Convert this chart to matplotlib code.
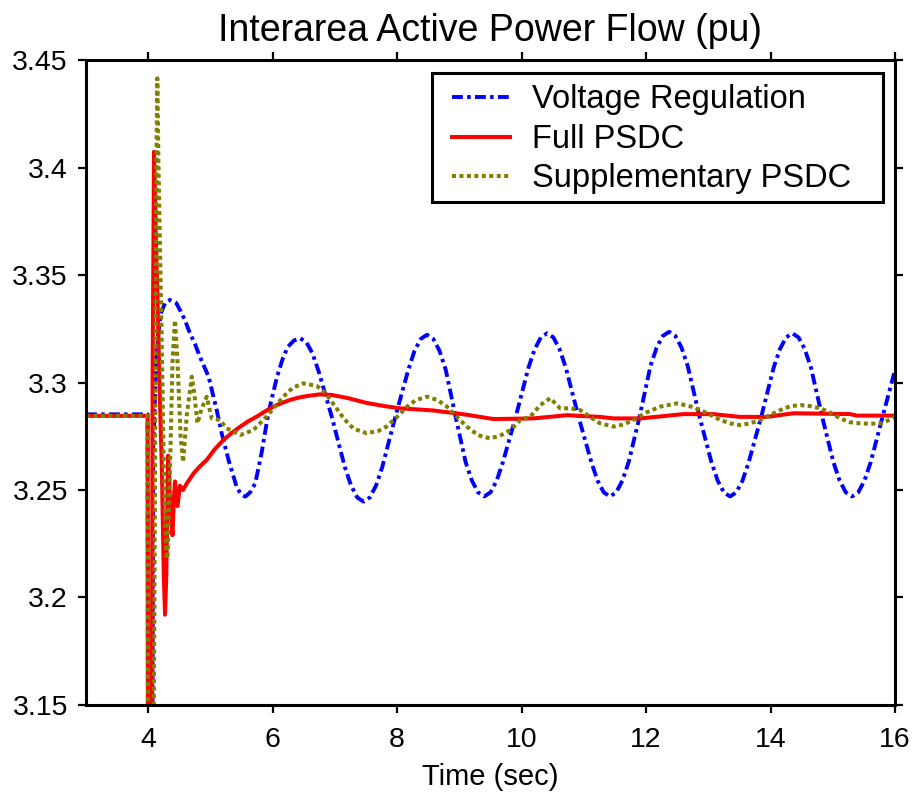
import numpy as np
import matplotlib
matplotlib.use('Agg')
import matplotlib.pyplot as plt
from matplotlib.patches import Rectangle
from matplotlib.transforms import IdentityTransform

plt.rcParams['font.family'] = ['Liberation Sans', 'DejaVu Sans']

# values (time in sec, power in pu)
t_volt = [3.0, 3.99, 4.0, 4.055, 4.08, 4.13, 4.16, 4.20, 4.27, 4.35, 4.45, 4.51, 4.59,
          4.67, 4.75, 4.83, 4.97, 5.10, 5.18, 5.29, 5.42, 5.49, 5.56, 5.64, 5.72,
          5.82, 5.93, 6.07, 6.16, 6.24, 6.34, 6.44, 6.54, 6.64, 6.74, 6.95,
          7.16, 7.26, 7.36, 7.46, 7.56, 7.66, 7.76, 7.97,
          8.18, 8.28, 8.38, 8.48, 8.58, 8.68, 8.78, 8.94,
          9.10, 9.20, 9.30, 9.40, 9.50, 9.60, 9.70, 9.905,
          10.11, 10.21, 10.31, 10.41, 10.51, 10.61, 10.71, 10.915,
          11.12, 11.22, 11.32, 11.42, 11.52, 11.62, 11.72, 11.895,
          12.07, 12.17, 12.27, 12.37, 12.47, 12.57, 12.67, 12.86,
          13.05, 13.15, 13.25, 13.35, 13.45, 13.55, 13.65, 13.85,
          14.05, 14.15, 14.25, 14.35, 14.45, 14.55, 14.65, 14.83,
          15.01, 15.11, 15.21, 15.31, 15.41, 15.51, 15.61, 15.80, 16.0]
p_volt = [3.2852, 3.2852, 3.0, 3.0, 3.27, 3.31, 3.322, 3.332, 3.337, 3.3384, 3.337,
          3.3337, 3.329, 3.3229, 3.318, 3.312, 3.3027, 3.2872, 3.2764, 3.264, 3.2515,
          3.248, 3.2469, 3.249, 3.2531, 3.267, 3.2857, 3.3027, 3.311, 3.3165, 3.3195,
          3.3206, 3.3188, 3.3135, 3.305, 3.284,
          3.2606, 3.252, 3.2465, 3.2446, 3.2465, 3.252, 3.2606, 3.284,
          3.306, 3.3148, 3.3203, 3.3222, 3.3203, 3.3148, 3.306, 3.284,
          3.263, 3.2544, 3.2489, 3.247, 3.2489, 3.2544, 3.263, 3.284,
          3.3069, 3.3155, 3.321, 3.3229, 3.321, 3.3155, 3.3069, 3.284,
          3.263, 3.2544, 3.2489, 3.247, 3.2489, 3.2544, 3.263, 3.284,
          3.3076, 3.3162, 3.3217, 3.3236, 3.3217, 3.3162, 3.3076, 3.284,
          3.263, 3.2544, 3.2489, 3.247, 3.2489, 3.2544, 3.263, 3.284,
          3.3069, 3.3155, 3.321, 3.3229, 3.321, 3.3155, 3.3069, 3.284,
          3.263, 3.2544, 3.2489, 3.247, 3.2489, 3.2544, 3.263, 3.284, 3.3058]

t_full = [3.0, 3.99, 4.0, 4.05, 4.07, 4.093, 4.12, 4.15, 4.19, 4.22, 4.25, 4.27, 4.29,
          4.31, 4.32, 4.35, 4.39, 4.41, 4.43, 4.47, 4.51, 4.56, 4.62, 4.73, 4.83,
          4.94, 5.07, 5.21, 5.34, 5.48, 5.61, 5.74, 5.88, 6.01, 6.15, 6.28, 6.42,
          6.55, 6.76, 6.95, 7.2, 7.51, 7.8, 8.05, 8.58, 9.12, 9.55, 10.19, 10.73,
          11.26, 11.48, 11.91, 12.6, 13.08, 13.51, 13.94, 14.37, 15.28, 15.39, 16.0]
p_full = [3.2845, 3.2845, 3.0, 3.0, 3.30, 3.4073, 3.37, 3.337, 3.29, 3.259, 3.21,
          3.192, 3.21, 3.25, 3.266, 3.245, 3.229, 3.245, 3.254, 3.2425, 3.252, 3.250,
          3.2531, 3.2578, 3.261, 3.264, 3.269, 3.2733, 3.2765, 3.2795, 3.282, 3.2841,
          3.2866, 3.2888, 3.2905, 3.2919, 3.293, 3.2937, 3.2945, 3.2942, 3.2928,
          3.2905, 3.289, 3.288, 3.287, 3.285, 3.283, 3.2833, 3.2848, 3.284, 3.2833,
          3.2833, 3.2853, 3.2853, 3.284, 3.284, 3.2857, 3.2853, 3.2846, 3.2846]

t_supp = [3.0, 3.99, 4.0, 4.06, 4.10, 4.13, 4.146, 4.165, 4.21, 4.25, 4.29, 4.31,
          4.35, 4.39, 4.43, 4.47, 4.52, 4.56, 4.62, 4.70, 4.74, 4.79, 4.86, 4.94,
          5.02, 5.15, 5.26, 5.48, 5.69, 5.90, 6.17, 6.32, 6.49, 6.71, 6.85, 7.0,
          7.15, 7.3, 7.51, 7.7, 7.83, 8.0, 8.16, 8.3, 8.48, 8.65, 8.80, 8.96, 9.12,
          9.3, 9.49, 9.65, 9.82, 9.98, 10.14, 10.30, 10.46, 10.62, 10.78, 10.94,
          11.1, 11.26, 11.48, 11.64, 11.80, 12.0, 12.23, 12.50, 12.7, 12.87, 13.03,
          13.19, 13.35, 13.51, 13.67, 13.84, 14.0, 14.16, 14.32, 14.48, 14.64,
          14.80, 14.96, 15.12, 15.28, 15.44, 15.6, 15.77, 15.9, 16.0]
p_supp = [3.2845, 3.2845, 3.0, 3.0, 3.20, 3.40, 3.4415, 3.40, 3.33, 3.26, 3.22,
          3.218, 3.26, 3.31, 3.329, 3.31, 3.275, 3.263, 3.285, 3.3027, 3.295, 3.281,
          3.288, 3.2934, 3.2833, 3.2826, 3.2787, 3.2756, 3.2779, 3.2841, 3.2934,
          3.2975, 3.2996, 3.2984, 3.295, 3.289, 3.283, 3.2785, 3.2764, 3.2775,
          3.2795, 3.284, 3.2888, 3.2918, 3.2934, 3.2918, 3.2888, 3.284, 3.2795,
          3.2755, 3.274, 3.2752, 3.2779, 3.2826, 3.2841, 3.2895, 3.2927, 3.288,
          3.288, 3.2872, 3.284, 3.281, 3.2795, 3.2805, 3.2826, 3.286, 3.2888,
          3.2903, 3.289, 3.2872, 3.285, 3.2826, 3.281, 3.2802, 3.281, 3.2826,
          3.285, 3.2872, 3.289, 3.2895, 3.289, 3.288, 3.286, 3.2833, 3.2815,
          3.281, 3.2808, 3.281, 3.2825, 3.2841]

x_ticks = [4, 6, 8, 10, 12, 14, 16]
y_ticks = [3.15, 3.2, 3.25, 3.3, 3.35, 3.4, 3.45]
y_labels = ['3.15', '3.2', '3.25', '3.3', '3.35', '3.4', '3.45']

fig = plt.figure(figsize=(9.14, 7.94), dpi=100)
ax = fig.add_axes([0.0941, 0.1121, 0.8851, 0.8123])

ax.plot(t_volt, p_volt, color='blue', lw=2.8, dashes=(2.8, 1.1, 0.9, 1.1),
        label='Voltage Regulation')
ax.plot(t_full, p_full, color='red', lw=2.9, label='Full PSDC')
ax.plot(t_supp, p_supp, color='#808000', lw=2.9, dashes=(1.0, 0.85),
        label='Supplementary PSDC')

ax.set_xlim(3, 16)
ax.set_ylim(3.15, 3.45)
ax.set_xticks(x_ticks)
ax.set_yticks(y_ticks)
ax.set_yticklabels(y_labels)
ax.tick_params(direction='out', length=6, width=1.6, labelsize=20.5, pad=7,
               top=True, right=True)
ax.tick_params(axis='x', pad=10)
for s in ax.spines.values():
    s.set_linewidth(2.2)

ax.set_xlabel('Time (sec)', fontsize=21, labelpad=7)
ax.set_title('Interarea Active Power Flow (pu)', fontsize=27, pad=14)

# legend without its own frame; box drawn behind it with wider side margins
leg = ax.legend(loc='upper right', bbox_to_anchor=(0.9604, 0.9798),
                fontsize=23.5, handlelength=1.8, handletextpad=0.67,
                labelspacing=0.26, borderpad=0.35, borderaxespad=0,
                frameon=False)
fig.canvas.draw()
bb = leg.get_window_extent()
box = Rectangle((bb.x0 - 8, bb.y0 + 4), bb.width + 28, bb.height - 4,
                transform=IdentityTransform(), facecolor='white',
                edgecolor='black', lw=2.2, zorder=4.9, clip_on=False)
ax.add_artist(box)

fig.savefig('out.png', dpi=100)
